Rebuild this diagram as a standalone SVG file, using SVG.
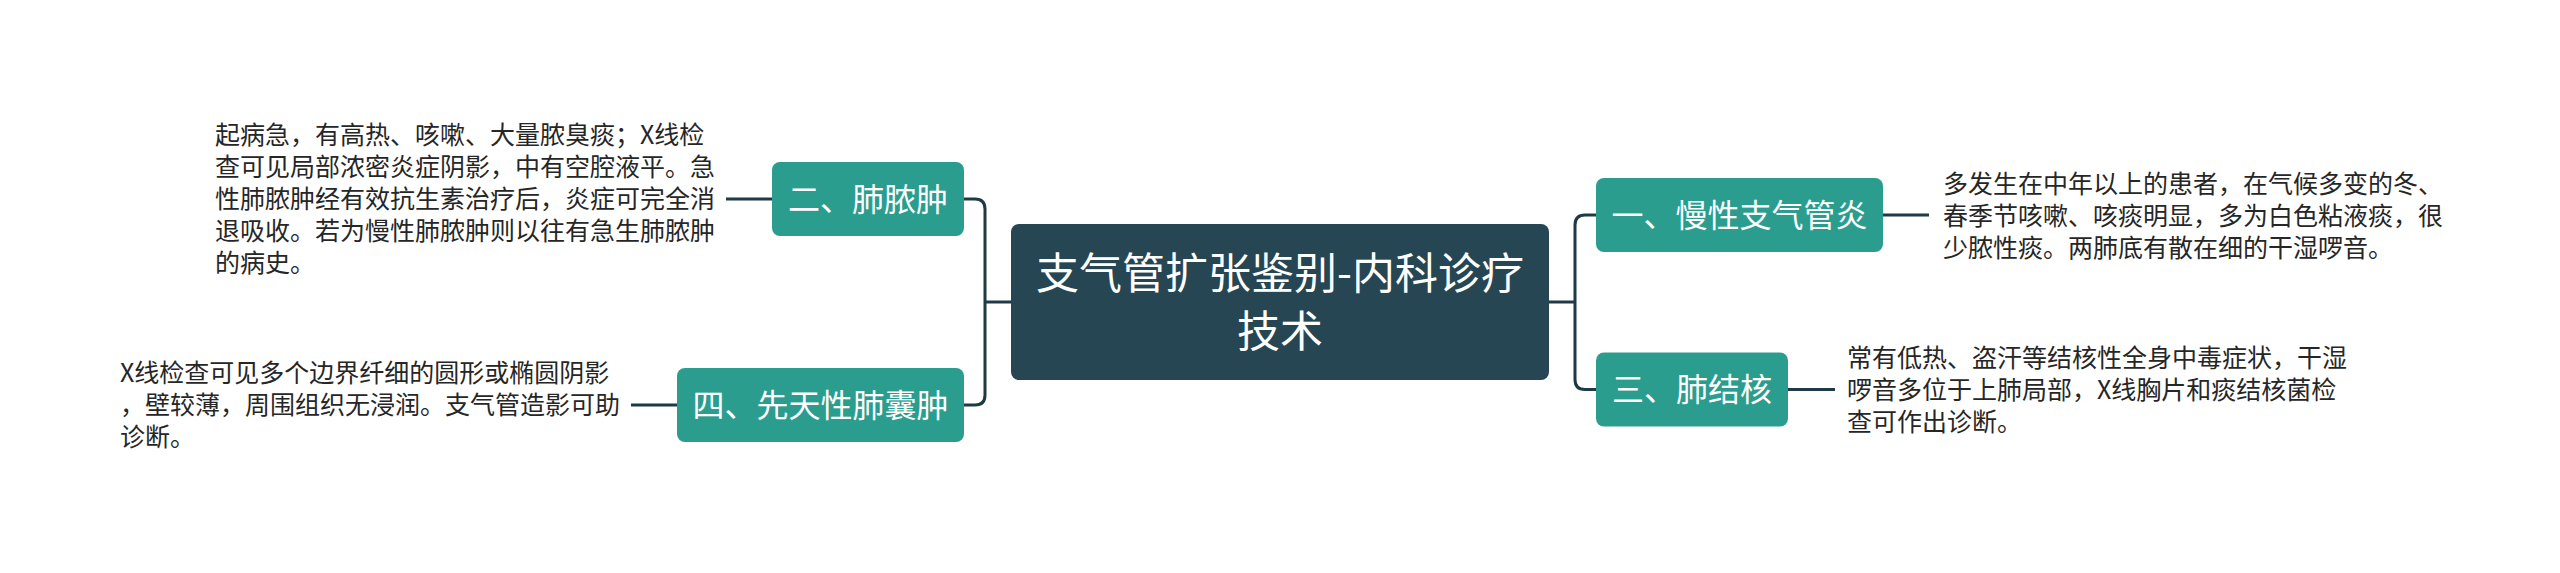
<svg xmlns="http://www.w3.org/2000/svg" width="2560" height="573" viewBox="0 0 2560 573">
<style>
.bg{fill:#ffffff}
.root{fill:#264653}
.node{fill:#2a9d8f}
.conn{fill:none;stroke:#1f3a47;stroke-width:3;stroke-linecap:butt}
.t-root{font-family:"Noto Sans CJK SC","Noto Sans",sans-serif;font-size:43px;fill:#ffffff;text-anchor:middle}
.t-node{font-family:"Noto Sans CJK SC","Noto Sans",sans-serif;font-size:32px;fill:#ffffff;text-anchor:middle}
.t-leaf{font-family:"Noto Sans CJK SC","Noto Sans",sans-serif;font-size:25px;fill:#262626}
</style>
<rect class="bg" x="0" y="0" width="2560" height="573"/>
<g id="connectors">
  <path class="conn" d="M1549,302 H1575"/>
  <path class="conn" d="M1596,215 H1585 Q1575,215 1575,225 V379.5 Q1575,389.5 1585,389.5 H1596"/>
  <path class="conn" d="M1011,302 H985"/>
  <path class="conn" d="M964,199 H975 Q985,199 985,209 V395 Q985,405 975,405 H964"/>
  <path class="conn" d="M1883,215 H1929"/>
  <path class="conn" d="M1788,389.5 H1835"/>
  <path class="conn" d="M726,199 H772"/>
  <path class="conn" d="M631,405 H677"/>
</g>
<g id="root">
  <rect class="root" x="1011" y="224" width="538" height="156" rx="8"/>
  <text class="t-root" x="1280" y="289">支气管扩张鉴别-内科诊疗</text>
  <text class="t-root" x="1280" y="347">技术</text>
</g>
<g id="node1">
  <rect class="node" x="1596" y="178" width="287" height="74" rx="8"/>
  <text class="t-node" x="1739.5" y="226.5">一、慢性支气管炎</text>
</g>
<g id="leaf1">
  <text class="t-leaf" x="1943" y="193">多发生在中年以上的患者，在气候多变的冬、</text>
  <text class="t-leaf" x="1943" y="225">春季节咳嗽、咳痰明显，多为白色粘液痰，很</text>
  <text class="t-leaf" x="1943" y="257">少脓性痰。两肺底有散在细的干湿啰音。</text>
</g>
<g id="node3">
  <rect class="node" x="1596" y="352.5" width="192" height="74" rx="8"/>
  <text class="t-node" x="1692" y="401">三、肺结核</text>
</g>
<g id="leaf3">
  <text class="t-leaf" x="1847" y="366.5">常有低热、盗汗等结核性全身中毒症状，干湿</text>
  <text class="t-leaf" x="1847" y="398.5">啰音多位于上肺局部，X线胸片和痰结核菌检</text>
  <text class="t-leaf" x="1847" y="430.5">查可作出诊断。</text>
</g>
<g id="node2">
  <rect class="node" x="772" y="162" width="192" height="74" rx="8"/>
  <text class="t-node" x="868" y="210.5">二、肺脓肿</text>
</g>
<g id="leaf2">
  <text class="t-leaf" x="215" y="144">起病急，有高热、咳嗽、大量脓臭痰；X线检</text>
  <text class="t-leaf" x="215" y="176">查可见局部浓密炎症阴影，中有空腔液平。急</text>
  <text class="t-leaf" x="215" y="208">性肺脓肿经有效抗生素治疗后，炎症可完全消</text>
  <text class="t-leaf" x="215" y="240">退吸收。若为慢性肺脓肿则以往有急生肺脓肿</text>
  <text class="t-leaf" x="215" y="272">的病史。</text>
</g>
<g id="node4">
  <rect class="node" x="677" y="368" width="287" height="74" rx="8"/>
  <text class="t-node" x="820.5" y="416.5">四、先天性肺囊肿</text>
</g>
<g id="leaf4">
  <text class="t-leaf" x="120" y="382">X线检查可见多个边界纤细的圆形或椭圆阴影</text>
  <text class="t-leaf" x="120" y="414">，壁较薄，周围组织无浸润。支气管造影可助</text>
  <text class="t-leaf" x="120" y="446">诊断。</text>
</g>
</svg>
